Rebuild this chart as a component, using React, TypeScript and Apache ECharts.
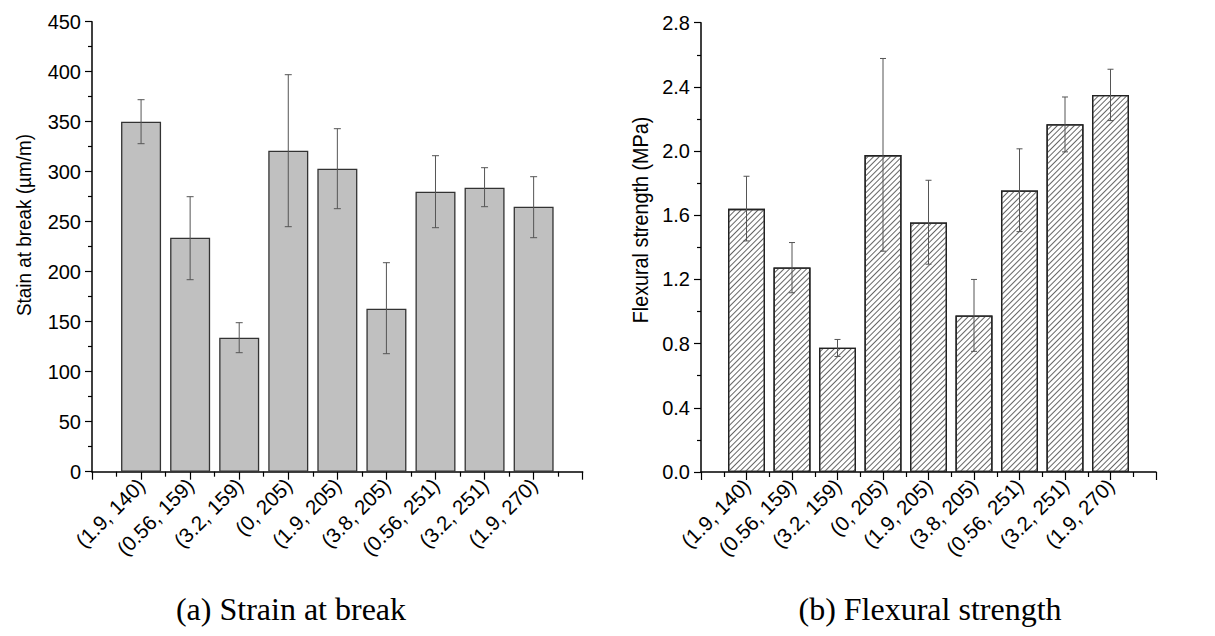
import React, { useEffect, useRef } from "react";
import * as echarts from "echarts";

const categories = [
  "(1.9, 140)",
  "(0.56, 159)",
  "(3.2, 159)",
  "(0, 205)",
  "(1.9, 205)",
  "(3.8, 205)",
  "(0.56, 251)",
  "(3.2, 251)",
  "(1.9, 270)",
];

const strainValues = [350, 234, 134, 321, 303, 163, 280, 284, 265];
const strainLow = [328, 192, 119, 245, 263, 118, 244, 265, 234];
const strainHigh = [372, 275, 149, 397, 343, 209, 316, 304, 295];

const flexValues = [1.64, 1.275, 0.775, 1.975, 1.555, 0.975, 1.755, 2.167, 2.35];
const flexLow = [1.44, 1.117, 0.72, 1.376, 1.295, 0.752, 1.498, 1.995, 2.19];
const flexHigh = [1.843, 1.43, 0.826, 2.577, 1.818, 1.2, 2.014, 2.337, 2.51];

const FONT = "'Liberation Sans', Arial, sans-serif";
const SERIF = "'Liberation Serif', 'DejaVu Serif', serif";

function errorRenderer(cap: number) {
  return (params: any, api: any) => {
    const x = api.value(0);
    const lo = api.coord([x, api.value(1)]);
    const hi = api.coord([x, api.value(2)]);
    const style = { stroke: "#555", lineWidth: 1 };
    return {
      type: "group",
      children: [
        { type: "line", shape: { x1: lo[0], y1: lo[1], x2: hi[0], y2: hi[1] }, style },
        { type: "line", shape: { x1: lo[0] - cap, y1: lo[1], x2: lo[0] + cap, y2: lo[1] }, style },
        { type: "line", shape: { x1: hi[0] - cap, y1: hi[1], x2: hi[0] + cap, y2: hi[1] }, style },
      ],
    };
  };
}

function xAxisCfg(gridIndex: number) {
  return {
    type: "value",
    gridIndex,
    min: 0,
    max: 10,
    interval: 1,
    axisLine: { show: true, lineStyle: { color: "#000", width: 1.5 } },
    axisTick: { show: true, length: 8, lineStyle: { color: "#000", width: 1.2 } },
    minorTick: { show: true, splitNumber: 2, length: 5, lineStyle: { color: "#000", width: 1.2 } },
    splitLine: { show: false },
    minorSplitLine: { show: false },
    axisLabel: {
      rotate: 45,
      margin: 10,
      fontSize: 20.5,
      fontFamily: FONT,
      color: "#000",
      formatter: (v: number) => (v >= 1 && v <= categories.length ? categories[v - 1] : ""),
    },
  };
}

export default function App() {
  const ref = useRef<HTMLDivElement>(null);
  useEffect(() => {
    document.body.style.margin = "0";
    const chart = echarts.init(ref.current!, null, { renderer: "svg" });
    const strainBars = strainValues.map((v, i) => [i + 1, v]);
    const strainErr = strainValues.map((_, i) => [i + 1, strainLow[i], strainHigh[i]]);
    const flexBars = flexValues.map((v, i) => [i + 1, v]);
    const flexErr = flexValues.map((_, i) => [i + 1, flexLow[i], flexHigh[i]]);

    chart.setOption({
      animation: false,
      backgroundColor: "#fff",
      title: [
        {
          text: "(a) Strain at break",
          left: 286,
          top: 588,
          textAlign: "center",
          textStyle: { fontFamily: SERIF, fontSize: 32, fontWeight: "normal", color: "#000" },
        },
        {
          text: "(b) Flexural strength",
          left: 925,
          top: 588,
          textAlign: "center",
          textStyle: { fontFamily: SERIF, fontSize: 32, fontWeight: "normal", color: "#000" },
        },
      ],
      graphic: [
        {
          type: "text",
          x: 23.5,
          y: 225,
          rotation: Math.PI / 2,
          scaleX: 0.9,
          style: {
            text: "Stain at break (µm/m)",
            font: "21px " + FONT,
            fill: "#000",
            align: "center",
            verticalAlign: "middle",
          },
        },
        {
          type: "text",
          x: 640,
          y: 220,
          rotation: Math.PI / 2,
          scaleX: 0.9,
          style: {
            text: "Flexural strength (MPa)",
            font: "22px " + FONT,
            fill: "#000",
            align: "center",
            verticalAlign: "middle",
          },
        },
      ],
      grid: [
        { left: 92, top: 21.7, width: 490.7, height: 450 },
        { left: 701, top: 22.7, width: 455, height: 449.3 },
      ],
      xAxis: [xAxisCfg(0), xAxisCfg(1)],
      yAxis: [
        {
          type: "value",
          gridIndex: 0,
          min: 0,
          max: 450,
          interval: 50,
          axisLine: { show: true, lineStyle: { color: "#000", width: 1.5 } },
          axisTick: { show: true, length: 7, lineStyle: { color: "#000", width: 1.2 } },
          minorTick: { show: true, splitNumber: 2, length: 4, lineStyle: { color: "#000", width: 1.2 } },
          splitLine: { show: false },
          axisLabel: { fontSize: 20, fontFamily: FONT, color: "#000", margin: 11 },
        },
        {
          type: "value",
          gridIndex: 1,
          min: 0,
          max: 2.8,
          interval: 0.4,
          axisLine: { show: true, lineStyle: { color: "#000", width: 1.5 } },
          axisTick: { show: true, length: 7, lineStyle: { color: "#000", width: 1.2 } },
          minorTick: { show: true, splitNumber: 2, length: 4, lineStyle: { color: "#000", width: 1.2 } },
          splitLine: { show: false },
          axisLabel: {
            fontSize: 20,
            fontFamily: FONT,
            color: "#000",
            margin: 11,
            formatter: (v: number) => v.toFixed(1),
          },
        },
      ],
      series: [
        {
          type: "bar",
          xAxisIndex: 0,
          yAxisIndex: 0,
          data: strainBars,
          barWidth: 40,
          itemStyle: { color: "#c0c0c0", borderColor: "#333", borderWidth: 1.3 },
        },
        {
          type: "custom",
          xAxisIndex: 0,
          yAxisIndex: 0,
          data: strainErr,
          encode: { x: 0, y: [1, 2] },
          renderItem: errorRenderer(3.5),
          z: 5,
        },
        {
          type: "bar",
          xAxisIndex: 1,
          yAxisIndex: 1,
          data: flexBars,
          barWidth: 37,
          itemStyle: {
            color: "#fff",
            borderColor: "#222",
            borderWidth: 1.3,
            decal: {
              symbol: "rect",
              symbolSize: 1,
              dashArrayX: [1, 0],
              dashArrayY: [1, 3],
              rotation: -Math.PI / 4,
              color: "#666",
              backgroundColor: "#fff",
            },
          },
        },
        {
          type: "custom",
          xAxisIndex: 1,
          yAxisIndex: 1,
          data: flexErr,
          encode: { x: 0, y: [1, 2] },
          renderItem: errorRenderer(3),
          z: 5,
        },
      ],
    });
    return () => chart.dispose();
  }, []);
  return <div ref={ref} style={{ position: "fixed", left: 0, top: 0, width: 1215, height: 636 }} />;
}
